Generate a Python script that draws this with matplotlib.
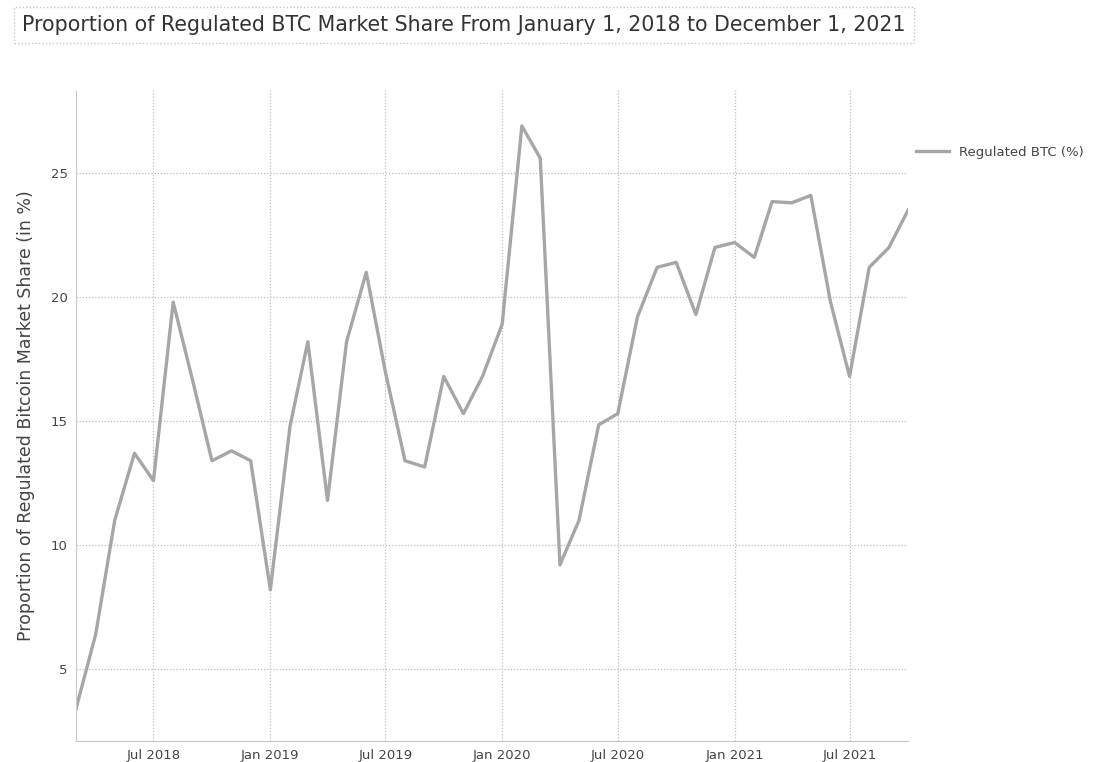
# share of regulated BTC market, monthly
import pandas as pd
import matplotlib.pyplot as plt
import matplotlib.dates as mdates

months = ["2018-03", "2018-04", "2018-05", "2018-06", "2018-07", "2018-08", "2018-09", "2018-10",
          "2018-11", "2018-12", "2019-01", "2019-02", "2019-03", "2019-04", "2019-05", "2019-06",
          "2019-07", "2019-08", "2019-09", "2019-10", "2019-11", "2019-12", "2020-01", "2020-02",
          "2020-03", "2020-04", "2020-05", "2020-06", "2020-07", "2020-08", "2020-09", "2020-10",
          "2020-11", "2020-12", "2021-01", "2021-02", "2021-03", "2021-04", "2021-05", "2021-06",
          "2021-07", "2021-08", "2021-09", "2021-10"]
regulated_btc = [3.4, 6.4, 11.0, 13.7, 12.6, 19.8, 16.6, 13.4,
                 13.8, 13.4, 8.2, 14.8, 18.2, 11.8, 18.2, 21.0,
                 17.0, 13.4, 13.15, 16.8, 15.3, 16.8, 18.9, 26.9,
                 25.6, 9.2, 11.0, 14.85, 15.3, 19.2, 21.2, 21.4,
                 19.3, 22.0, 22.2, 21.6, 23.85, 23.8, 24.1, 19.8,
                 16.8, 21.2, 22.0, 23.5]

df = pd.DataFrame({"month": pd.to_datetime(months), "Regulated BTC (%)": regulated_btc})

plt.rcParams["font.family"] = ["DejaVu Sans"]

fig = plt.figure(figsize=(11.12, 7.62), dpi=100)
ax = fig.add_axes([76 / 1112, 1 - 741 / 762, (908 - 76) / 1112, (741 - 90) / 762])

ax.plot(df["month"], df["Regulated BTC (%)"], color="#a6a6a6", linewidth=2.4,
        label="Regulated BTC (%)")

ax.set_xlim(df["month"].iloc[0], df["month"].iloc[-1])
ax.set_ylim(2.1, 28.35)
ax.set_yticks([5, 10, 15, 20, 25])
ax.xaxis.set_major_locator(mdates.MonthLocator(bymonth=[1, 7]))
ax.xaxis.set_major_formatter(mdates.DateFormatter("%b %Y"))

ax.grid(True, color="#bdbdbd", linestyle=(0, (1, 1.5)), linewidth=0.9)
ax.set_axisbelow(True)
for side in ["top", "right"]:
    ax.spines[side].set_visible(False)
for side in ["left", "bottom"]:
    ax.spines[side].set_color("#c8c8c8")
    ax.spines[side].set_linestyle((0, (1, 1)))
ax.tick_params(length=0, labelsize=9.5, colors="#444444", pad=6)

ax.set_ylabel("Proportion of Regulated Bitcoin Market Share (in %)", fontsize=12.5,
              color="#444444", labelpad=11)

fig.text(22 / 1112, 1 - 25 / 762,
         "Proportion of Regulated BTC Market Share From January 1, 2018 to December 1, 2021",
         fontsize=14.8, color="#333333", va="center", ha="left",
         bbox=dict(boxstyle="square,pad=0.4", facecolor="white", edgecolor="#c8c8c8",
                   linestyle=(0, (1, 1.5))))

ax.legend(loc="upper left", bbox_to_anchor=(1.0, 1.0 - 48 / 651), frameon=False,
          fontsize=9.5, labelcolor="#444444", handlelength=2.5, borderaxespad=0.2)

fig.savefig("out.png", dpi=100)
